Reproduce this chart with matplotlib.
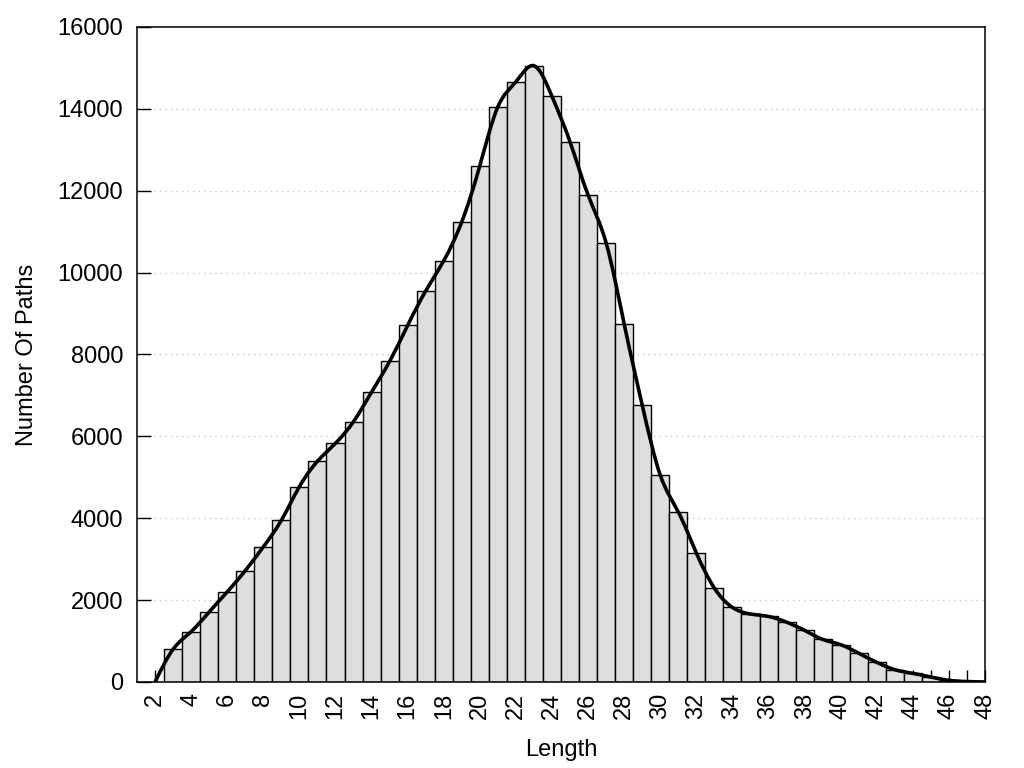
import numpy as np
import matplotlib
matplotlib.use("Agg")
import matplotlib.pyplot as plt
from matplotlib.path import Path
from matplotlib.patches import PathPatch

plt.rcParams['font.family'] = ['Liberation Sans', 'DejaVu Sans']

# path length vs number of paths
lengths = np.arange(2, 49)
paths = np.array([0, 800, 1230, 1710, 2200, 2720, 3300, 3950, 4770, 5390,
                  5830, 6360, 7080, 7830, 8710, 9550, 10290, 11240, 12610, 14050,
                  14660, 15050, 14300, 13190, 11890, 10720, 8740, 6760, 5050, 4150,
                  3150, 2290, 1820, 1660, 1600, 1460, 1260, 1040, 910, 700,
                  480, 300, 210, 120, 40, 10, 0])
x_major = np.arange(2, 49, 2)
y_ticks = np.arange(0, 16001, 2000)


def spline_path(x, y):
    # natural cubic spline through the points, written as bezier segments
    n = len(x)
    A = np.zeros((n, n))
    b = np.zeros(n)
    A[0, 0], A[0, 1], b[0] = 2, 1, 3 * (y[1] - y[0])
    A[-1, -2], A[-1, -1], b[-1] = 1, 2, 3 * (y[-1] - y[-2])
    for i in range(1, n - 1):
        A[i, i - 1], A[i, i], A[i, i + 1] = 1, 4, 1
        b[i] = 3 * (y[i + 1] - y[i - 1])
    m = np.linalg.solve(A, b)
    verts = [(x[0], y[0])]
    codes = [Path.MOVETO]
    for i in range(n - 1):
        h = x[i + 1] - x[i]
        verts += [(x[i] + h / 3, y[i] + m[i] * h / 3),
                  (x[i + 1] - h / 3, y[i + 1] - m[i + 1] * h / 3),
                  (x[i + 1], y[i + 1])]
        codes += [Path.CURVE4] * 3
    return Path(verts, codes)


fig = plt.figure(figsize=(10.24, 7.68), dpi=100)
ax = fig.add_axes([0.1338, 0.112, 0.8282, 0.853])

ax.bar(lengths, paths, width=1.0, color='#dedede', edgecolor='black',
       linewidth=1.0, zorder=2)
ax.add_patch(PathPatch(spline_path(lengths.astype(float), paths.astype(float)),
                       facecolor='none', edgecolor='black', linewidth=2.6,
                       zorder=3, clip_on=True))

ax.set_xlim(1, 48)
ax.set_ylim(0, 16000)
ax.set_xticks(x_major)
ax.set_xticks(lengths, minor=True)
ax.set_xticklabels([str(v) for v in x_major], rotation=90)
ax.set_yticks(y_ticks)

for v in y_ticks[1:-1]:
    ax.axhline(v, color='#c8c8c8', linewidth=1.0, linestyle=(0, (1, 3)), zorder=1)

ax.tick_params(axis='both', which='both', direction='in', labelsize=17,
               width=1.0, colors='black')
ax.tick_params(axis='x', which='both', length=9, pad=8)
ax.tick_params(axis='y', which='major', length=10, pad=10)

for s in ax.spines.values():
    s.set_linewidth(1.1)

ax.set_xlabel('Length', fontsize=17, labelpad=14)
ax.set_ylabel('Number Of Paths', fontsize=17, labelpad=14)

fig.savefig('out.png', dpi=100)
